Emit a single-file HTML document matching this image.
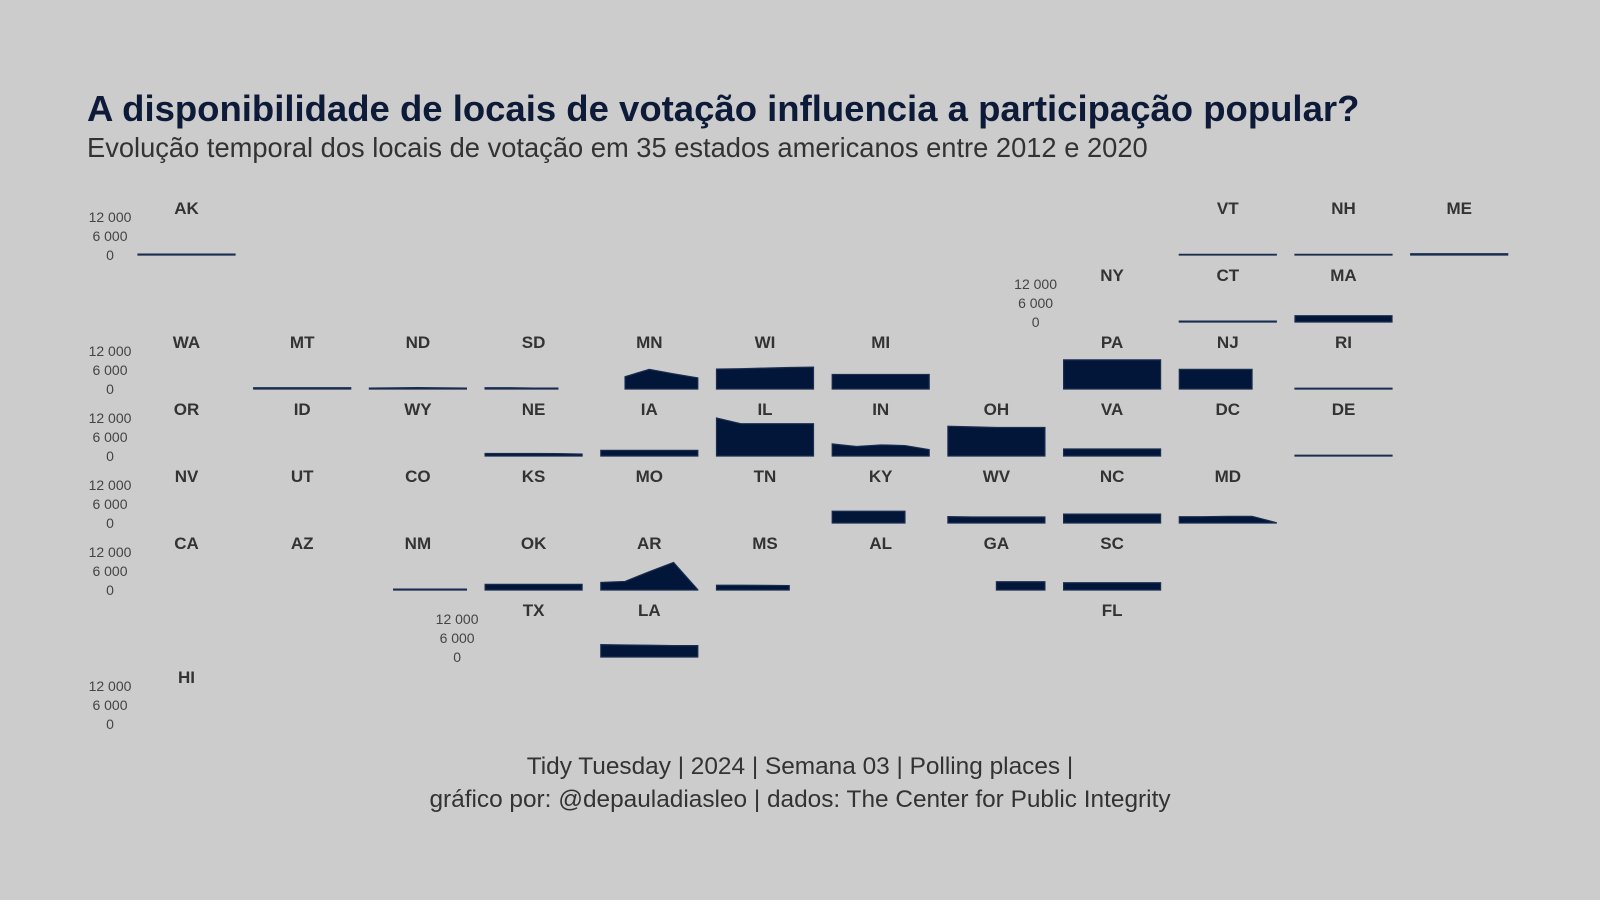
<!DOCTYPE html>
<html><head><meta charset="utf-8">
<style>
html,body{margin:0;padding:0;background:#cccccc;}
svg{display:block;}
text{font-family:"Liberation Sans",sans-serif;}
</style></head>
<body>
<svg id="chart" width="1600" height="900" viewBox="0 0 1600 900">
<rect width="1600" height="900" fill="#cccccc"/>
<text x="87" y="121" font-size="36.5" font-weight="bold" fill="#0d1a38">A disponibilidade de locais de votação influencia a participação popular?</text>
<text x="87" y="157" font-size="27.3" fill="#333333">Evolução temporal dos locais de votação em 35 estados americanos entre 2012 e 2020</text>
<text x="800" y="774" font-size="24.4" fill="#333333" text-anchor="middle">Tidy Tuesday | 2024 | Semana 03 | Polling places |</text>
<text x="800" y="807" font-size="24.4" fill="#333333" text-anchor="middle">gráfico por: @depauladiasleo | dados: The Center for Public Integrity</text>
<g id="panels"></g>
</svg>
<script>
const years = [2012, 2014, 2016, 2018, 2020];
const states = ["AK","VT","NH","ME","NY","CT","MA","WA","MT","ND","SD","MN","WI","MI","PA","NJ","RI","OR","ID","WY","NE","IA","IL","IN","OH","VA","DC","DE","NV","UT","CO","KS","MO","TN","KY","WV","NC","MD","CA","AZ","NM","OK","AR","MS","AL","GA","SC","TX","LA","FL","HI"];
const gridCol = [0,9,10,11,8,9,10,0,1,2,3,4,5,6,8,9,10,0,1,2,3,4,5,6,7,8,9,10,0,1,2,3,4,5,6,7,8,9,0,1,2,3,4,5,6,7,8,3,4,8,0];
const gridRow = [0,0,0,0,1,1,1,2,2,2,2,2,2,2,2,2,2,3,3,3,3,3,3,3,3,3,3,3,4,4,4,4,4,4,4,4,4,4,5,5,5,5,5,5,5,5,5,6,6,6,7];
const N = null;
const values = {
  AK:[300,300,300,300,300], VT:[200,200,200,200,200], NH:[200,200,200,200,200], ME:[400,400,400,400,400],
  NY:[N,N,N,N,N], CT:[300,300,300,300,300], MA:[2000,2000,2000,2000,2000],
  WA:[N,N,N,N,N], MT:[400,400,400,400,400], ND:[300,350,450,350,300], SD:[400,400,300,300,N],
  MN:[N,3900,6200,4800,3500], WI:[6300,6400,6600,6800,6900], MI:[4600,4600,4600,4600,4600],
  PA:[9200,9200,9200,9200,9200], NJ:[6200,6200,6200,6200,N], RI:[250,250,250,250,250],
  OR:[N,N,N,N,N], ID:[N,N,N,N,N], WY:[N,N,N,N,N], NE:[800,800,800,750,600], IA:[1800,1800,1800,1800,1800],
  IL:[12000,10200,10200,10200,10200], IN:[3800,3000,3500,3300,2000], OH:[9400,9200,9000,9000,9000],
  VA:[2200,2200,2200,2200,2200], DC:[N,N,N,N,N], DE:[250,250,250,250,250],
  NV:[N,N,N,N,N], UT:[N,N,N,N,N], CO:[N,N,N,N,N], KS:[N,N,N,N,N], MO:[N,N,N,N,N], TN:[N,N,N,N,N],
  KY:[3700,3700,3700,3700,N], WV:[2000,1900,1900,1900,1900], NC:[2800,2800,2800,2800,2800], MD:[2000,2000,2100,2100,100],
  CA:[N,N,N,N,N], AZ:[N,N,N,N,N], NM:[N,300,300,300,300], OK:[1800,1800,1800,1800,1800],
  AR:[2400,2700,5800,8700,100], MS:[1500,1500,1450,1400,N], AL:[N,N,N,N,N], GA:[N,N,2600,2600,2600],
  SC:[2300,2300,2300,2300,2300], TX:[N,N,N,N,N], LA:[3900,3800,3700,3600,3600], FL:[N,N,N,N,N], HI:[N,N,N,N,N]
};
const tickValues = [12000, 6000, 0];
const tickLabels = ["12 000", "6 000", "0"];
const axisRows = [0,1,2,3,4,5,6,7];
const axisFirstCol = [0,8,0,0,0,0,3,0];

const X0 = 138, COLW = 115.7, PW = 97, LABEL0 = 208, ROWH = 67;
const PXPER = 38 / 12000;
function colX(c){ return X0 + c * COLW; }
function labelY(r){ return LABEL0 + r * ROWH; }
function baseY(r){ return labelY(r) + 47; }
function xScale(c, yr){ return colX(c) + (yr - years[0]) / (years[years.length-1] - years[0]) * PW; }
function yScale(r, v){ return baseY(r) - v * PXPER; }

const NS = "http://www.w3.org/2000/svg";
const g = document.getElementById("panels");

axisRows.forEach((r, i) => {
  tickValues.forEach((tv, k) => {
    const t = document.createElementNS(NS, "text");
    
    
    t.setAttribute("x", colX(axisFirstCol[i]) - 28);
    t.setAttribute("y", yScale(r, tv) + 5);
    t.setAttribute("text-anchor", "middle");
    t.setAttribute("font-size", "14");
    t.setAttribute("fill", "#444444");
    t.textContent = tickLabels[k];
    g.appendChild(t);
  });
});

states.forEach((s, i) => {
  const c = gridCol[i], r = gridRow[i];
  const lab = document.createElementNS(NS, "text");
  
  
  lab.setAttribute("x", colX(c) + PW / 2);
  lab.setAttribute("y", labelY(r) + 6);
  lab.setAttribute("text-anchor", "middle");
  lab.setAttribute("font-size", "17");
  lab.setAttribute("font-weight", "bold");
  lab.setAttribute("fill", "#333333");
  lab.textContent = s;
  g.appendChild(lab);
  const vals = values[s];
  const pts = [];
  vals.forEach((v, k) => { if (v !== null) pts.push([xScale(c, years[k]), yScale(r, v)]); });
  if (pts.length < 2) return;
  const b = baseY(r);
  let d = "M" + pts[0][0] + "," + b;
  pts.forEach(p => { d += " L" + p[0] + "," + p[1]; });
  d += " L" + pts[pts.length-1][0] + "," + b + " Z";
  const path = document.createElementNS(NS, "path");
  
  
  path.setAttribute("d", d);
  path.setAttribute("fill", "#011638");
  path.setAttribute("stroke", "#1a2c50");
  path.setAttribute("stroke-width", "1.2");
  g.appendChild(path);
});
</script>
</body></html>
